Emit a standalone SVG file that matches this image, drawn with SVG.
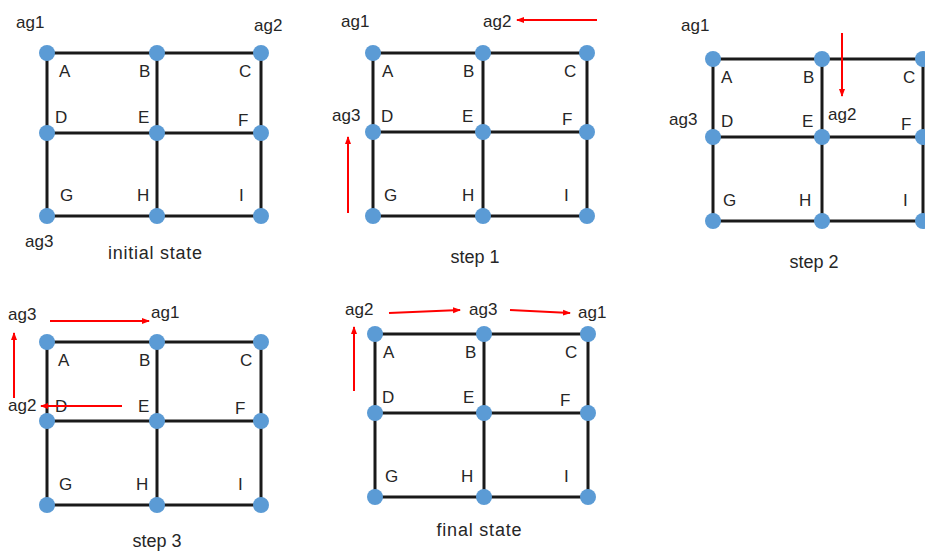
<svg xmlns="http://www.w3.org/2000/svg" width="925" height="552" viewBox="0 0 925 552">
<defs>
<style>
.grid{fill:none;stroke:#1a1a1a;stroke-width:3}
.dot{fill:#5b9bd5}
.t{font-family:"Liberation Sans",Arial,sans-serif;font-size:17px;fill:#262626}
.cap{font-family:"Liberation Sans",Arial,sans-serif;font-size:18px;fill:#262626;text-anchor:middle}
.arr{stroke:#ff0000;stroke-width:2;fill:none;marker-end:url(#ah)}
</style>
<marker id="ah" markerWidth="8" markerHeight="8" refX="7" refY="4" orient="auto" markerUnits="userSpaceOnUse">
<path d="M0,1 L8,4 L0,7 Z" fill="#ff0000"/>
</marker>
</defs>
<rect width="925" height="552" fill="#ffffff"/>

<!-- Panel 1: initial state -->
<g id="panel-initial">
<path class="grid" d="M47,53H261V216H47Z M157,53V216 M47,133H261"/>
<g id="p1-nodes">
<circle class="dot" cx="47" cy="53" r="8"/><circle class="dot" cx="157" cy="53" r="8"/><circle class="dot" cx="261" cy="53" r="8"/>
<circle class="dot" cx="47" cy="133" r="8"/><circle class="dot" cx="157" cy="133" r="8"/><circle class="dot" cx="261" cy="133" r="8"/>
<circle class="dot" cx="47" cy="216" r="8"/><circle class="dot" cx="157" cy="216" r="8"/><circle class="dot" cx="261" cy="216" r="8"/>
</g>
<text class="t" x="59" y="77">A</text><text class="t" x="139" y="77">B</text><text class="t" x="239" y="77">C</text>
<text class="t" x="55" y="123">D</text><text class="t" x="138" y="123">E</text><text class="t" x="238" y="126">F</text>
<text class="t" x="60" y="201">G</text><text class="t" x="137" y="201">H</text><text class="t" x="239" y="201">I</text>
<text class="t" x="16" y="28">ag1</text><text class="t" x="254" y="31">ag2</text><text class="t" x="25" y="247">ag3</text>
<text class="cap" x="155" y="259" textLength="94">initial state</text>
</g>

<!-- Panel 2: step 1 -->
<g id="panel-step1">
<path class="grid" d="M373,53H587V216H373Z M483,53V216 M373,132H587"/>
<g id="p2-nodes">
<circle class="dot" cx="373" cy="53" r="8"/><circle class="dot" cx="483" cy="53" r="8"/><circle class="dot" cx="587" cy="53" r="8"/>
<circle class="dot" cx="373" cy="132" r="8"/><circle class="dot" cx="483" cy="132" r="8"/><circle class="dot" cx="587" cy="132" r="8"/>
<circle class="dot" cx="373" cy="216" r="8"/><circle class="dot" cx="483" cy="216" r="8"/><circle class="dot" cx="587" cy="216" r="8"/>
</g>
<text class="t" x="382" y="77">A</text><text class="t" x="463" y="77">B</text><text class="t" x="564" y="77">C</text>
<text class="t" x="381" y="122">D</text><text class="t" x="462" y="122">E</text><text class="t" x="562" y="125">F</text>
<text class="t" x="384" y="201">G</text><text class="t" x="462" y="201">H</text><text class="t" x="564" y="201">I</text>
<text class="t" x="341" y="27">ag1</text><text class="t" x="483" y="27">ag2</text><text class="t" x="332" y="121">ag3</text>
<text class="cap" x="475" y="263">step 1</text>
</g>

<!-- Panel 3: step 2 -->
<g id="panel-step2">
<path class="grid" d="M713,59H923V221H713Z M822,59V221 M713,137H923"/>
<g id="p3-nodes">
<circle class="dot" cx="713" cy="59" r="8"/><circle class="dot" cx="822" cy="59" r="8"/><circle class="dot" cx="923" cy="59" r="8"/>
<circle class="dot" cx="713" cy="137" r="8"/><circle class="dot" cx="822" cy="137" r="8"/><circle class="dot" cx="923" cy="137" r="8"/>
<circle class="dot" cx="713" cy="221" r="8"/><circle class="dot" cx="822" cy="221" r="8"/><circle class="dot" cx="923" cy="221" r="8"/>
</g>
<text class="t" x="721" y="83">A</text><text class="t" x="803" y="83">B</text><text class="t" x="903" y="83">C</text>
<text class="t" x="721" y="127">D</text><text class="t" x="802" y="127">E</text><text class="t" x="901" y="130">F</text>
<text class="t" x="723" y="206">G</text><text class="t" x="799" y="206">H</text><text class="t" x="903" y="206">I</text>
<text class="t" x="681" y="31">ag1</text><text class="t" x="669" y="125">ag3</text><text class="t" x="828" y="120">ag2</text>
<text class="cap" x="814" y="268">step 2</text>
</g>

<!-- Panel 4: step 3 -->
<g id="panel-step3">
<path class="grid" d="M47,342H261V505H47Z M157,342V505 M47,421H261"/>
<g id="p4-nodes">
<circle class="dot" cx="47" cy="342" r="8"/><circle class="dot" cx="157" cy="342" r="8"/><circle class="dot" cx="261" cy="342" r="8"/>
<circle class="dot" cx="47" cy="421" r="8"/><circle class="dot" cx="157" cy="421" r="8"/><circle class="dot" cx="261" cy="421" r="8"/>
<circle class="dot" cx="47" cy="505" r="8"/><circle class="dot" cx="157" cy="505" r="8"/><circle class="dot" cx="261" cy="505" r="8"/>
</g>
<text class="t" x="58" y="366">A</text><text class="t" x="139" y="366">B</text><text class="t" x="240" y="366">C</text>
<text class="t" x="55" y="412">D</text><text class="t" x="138" y="412">E</text><text class="t" x="235" y="414">F</text>
<text class="t" x="59" y="490">G</text><text class="t" x="136" y="490">H</text><text class="t" x="238" y="490">I</text>
<text class="t" x="8" y="320">ag3</text><text class="t" x="151" y="318">ag1</text><text class="t" x="8" y="411">ag2</text>
<text class="cap" x="157" y="547">step 3</text>
</g>

<!-- Panel 5: final state -->
<g id="panel-final">
<path class="grid" d="M375,334H588V497H375Z M484,334V497 M375,413H588"/>
<g id="p5-nodes">
<circle class="dot" cx="375" cy="334" r="8"/><circle class="dot" cx="484" cy="334" r="8"/><circle class="dot" cx="588" cy="334" r="8"/>
<circle class="dot" cx="375" cy="413" r="8"/><circle class="dot" cx="484" cy="413" r="8"/><circle class="dot" cx="588" cy="413" r="8"/>
<circle class="dot" cx="375" cy="497" r="8"/><circle class="dot" cx="484" cy="497" r="8"/><circle class="dot" cx="588" cy="497" r="8"/>
</g>
<text class="t" x="383" y="358">A</text><text class="t" x="465" y="358">B</text><text class="t" x="565" y="358">C</text>
<text class="t" x="382" y="403">D</text><text class="t" x="463" y="403">E</text><text class="t" x="560" y="406">F</text>
<text class="t" x="385" y="482">G</text><text class="t" x="461" y="482">H</text><text class="t" x="564" y="482">I</text>
<text class="t" x="345" y="315">ag2</text><text class="t" x="469" y="315">ag3</text><text class="t" x="578" y="318">ag1</text>
<text class="cap" x="479" y="536" textLength="85">final state</text>
</g>

<!-- Connectors (red movement arrows) -->
<g id="connectors">
<line class="arr" x1="597" y1="20" x2="517" y2="20"/>
<line class="arr" x1="348" y1="213" x2="348" y2="137"/>
<line class="arr" x1="842" y1="33" x2="842" y2="96"/>
<line class="arr" x1="50" y1="321" x2="149" y2="321"/>
<line class="arr" x1="14" y1="398" x2="14" y2="333"/>
<line class="arr" x1="122" y1="406" x2="41" y2="406"/>
<line class="arr" x1="389" y1="313" x2="460" y2="310"/>
<line class="arr" x1="510" y1="310" x2="570" y2="313"/>
<line class="arr" x1="354" y1="391" x2="354" y2="327"/>
</g>
</svg>
